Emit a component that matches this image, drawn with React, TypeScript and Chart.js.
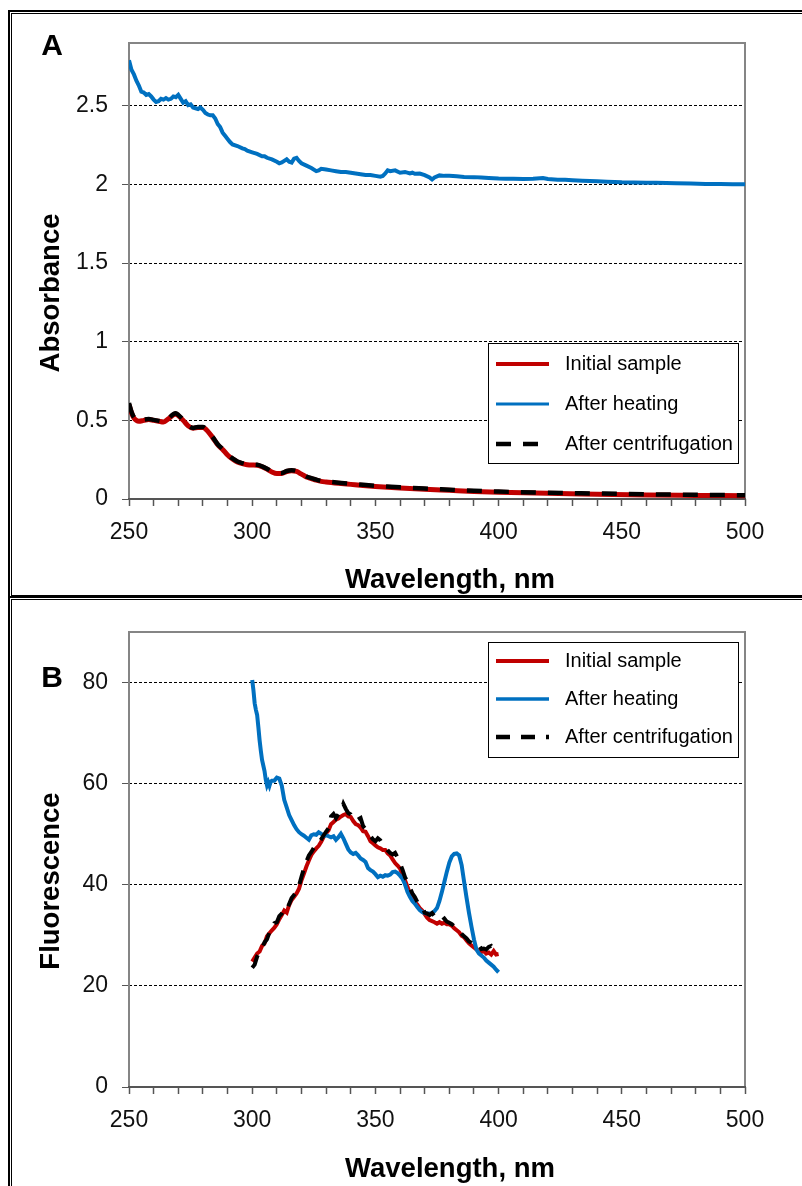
import React, { useEffect, useRef } from 'react';
import { Chart, registerables } from 'chart.js';

Chart.register(...registerables);

const FONT = "'Liberation Sans', Arial, Helvetica, sans-serif";
const RED = '#C00000';
const BLUE = '#0070C0';
const BLACK = '#000000';

const legendLabels = ['Initial sample', 'After heating', 'After centrifugation'];
const xTitle = 'Wavelength, nm';
const xTickLabels = ['250', '300', '350', '400', '450', '500'];
const yTickLabelsA = ['0', '0.5', '1', '1.5', '2', '2.5'];
const yTickLabelsB = ['0', '20', '40', '60', '80'];

// ---------- Panel A: absorbance ----------
const absHeatWl = [
  250, 251, 252, 253, 254, 255, 256, 257, 258, 259, 260, 261, 262, 263, 264, 265, 266, 267, 268, 269,
  270, 271, 272, 273, 274, 275, 276, 277, 278, 279, 280, 281, 282, 283, 284, 285, 286, 287, 288, 289,
  290, 291, 292, 294, 296, 297, 298, 300, 302, 304, 305, 306, 308, 310, 311, 312, 313, 314, 315, 316,
  317, 318, 319, 320, 322, 324, 326, 327, 328, 330, 332, 334, 336, 338, 340, 342, 344, 346, 348, 350,
  352, 353, 354, 355, 356, 358, 360, 362, 364, 365, 366, 368, 370, 372, 373, 374, 376, 378, 380, 383,
  386, 390, 393, 396, 400, 403, 406, 410, 414, 418, 420, 424, 427, 430, 434, 437, 440, 444, 447, 450,
  455, 460, 464, 468, 472, 478, 484, 490, 495, 500,
];
const absHeating = [
  2.79, 2.73, 2.70, 2.66, 2.63, 2.59, 2.585, 2.57, 2.575, 2.56, 2.54, 2.525, 2.53, 2.545, 2.54, 2.55, 2.54, 2.545, 2.56, 2.555,
  2.57, 2.545, 2.52, 2.53, 2.505, 2.51, 2.49, 2.485, 2.48, 2.49, 2.475, 2.455, 2.445, 2.44, 2.44, 2.42, 2.385, 2.365, 2.33, 2.31,
  2.29, 2.27, 2.255, 2.245, 2.23, 2.225, 2.215, 2.205, 2.195, 2.18, 2.18, 2.17, 2.16, 2.145, 2.135, 2.14, 2.15, 2.16, 2.145, 2.14,
  2.165, 2.17, 2.15, 2.135, 2.12, 2.105, 2.085, 2.09, 2.10, 2.095, 2.09, 2.085, 2.08, 2.08, 2.075, 2.07, 2.065, 2.06, 2.06, 2.055,
  2.05, 2.055, 2.07, 2.09, 2.085, 2.09, 2.075, 2.08, 2.07, 2.075, 2.068, 2.07, 2.06, 2.045, 2.032, 2.045, 2.058, 2.055, 2.055, 2.052,
  2.048, 2.047, 2.044, 2.041, 2.038, 2.037, 2.036, 2.035, 2.037, 2.041, 2.035, 2.031, 2.03, 2.027, 2.024, 2.022, 2.02, 2.018, 2.016, 2.014,
  2.013, 2.012, 2.012, 2.01, 2.008, 2.006, 2.004, 2.003, 2.002, 2.001,
];

const absInitWl = [
  250, 251, 252, 253, 254, 256, 258, 260, 262, 264, 266, 268, 269, 270, 272, 274, 276, 278, 280, 282,
  284, 286, 288, 290, 292, 294, 296, 298, 300, 302, 304, 306, 308, 310, 312, 314, 316, 318, 320, 322,
  324, 326, 328, 330, 335, 340, 345, 350, 360, 370, 380, 390, 400, 420, 440, 460, 480, 500,
];
const absInitial = [
  0.60, 0.55, 0.515, 0.50, 0.495, 0.50, 0.505, 0.50, 0.495, 0.49, 0.51, 0.535, 0.54, 0.53, 0.50, 0.465, 0.45, 0.455, 0.455, 0.43,
  0.39, 0.345, 0.315, 0.28, 0.255, 0.235, 0.225, 0.218, 0.216, 0.215, 0.205, 0.19, 0.172, 0.162, 0.162, 0.175, 0.18, 0.175, 0.158, 0.14,
  0.13, 0.12, 0.112, 0.108, 0.10, 0.093, 0.086, 0.08, 0.07, 0.062, 0.055, 0.048, 0.043, 0.036, 0.031, 0.026, 0.023, 0.02,
];
const absCentrif = [
  0.61, 0.555, 0.52, 0.505, 0.50, 0.505, 0.508, 0.503, 0.497, 0.492, 0.512, 0.54, 0.545, 0.535, 0.503, 0.468, 0.452, 0.458, 0.458, 0.433,
  0.393, 0.348, 0.318, 0.283, 0.258, 0.238, 0.228, 0.221, 0.219, 0.218, 0.208, 0.193, 0.175, 0.165, 0.165, 0.178, 0.183, 0.178, 0.161, 0.143,
  0.133, 0.123, 0.115, 0.111, 0.104, 0.097, 0.09, 0.084, 0.074, 0.066, 0.059, 0.052, 0.047, 0.04, 0.035, 0.03, 0.027, 0.024,
];

// ---------- Panel B: fluorescence ----------
const flWl = [
  300, 301, 302, 303, 304, 305, 306, 307, 308, 309, 310, 311, 312, 313, 314, 315, 316, 317, 318, 319,
  320, 321, 322, 323, 324, 325, 326, 327, 328, 329, 330, 331, 332, 333, 334, 335, 336, 337, 338, 339,
  340, 341, 342, 343, 344, 345, 346, 347, 348, 349, 350, 351, 352, 353, 354, 355, 356, 357, 358, 359,
  360, 361, 362, 363, 364, 365, 366, 367, 368, 369, 370, 371, 372, 373, 374, 375, 376, 377, 378, 379,
  380, 381, 382, 383, 384, 385, 386, 387, 388, 389, 390, 391, 392, 393, 394, 395, 396, 397, 398, 399, 400,
];
const flInitial = [
  24.8, 25.6, 26.4, 26.8, 27.9, 28.4, 29.8, 30.4, 31.0, 31.5, 32.2, 33.2, 34.0, 34.9, 34.5, 36.0, 37.0, 37.6, 38.3, 39.2,
  40.9, 42.2, 43.6, 44.8, 45.9, 46.6, 47.2, 47.7, 48.5, 49.5, 50.2, 50.8, 52.0, 52.4, 52.9, 53.1, 53.5, 53.8, 54.0, 53.5,
  53.4, 52.6, 52.0, 51.8, 51.3, 50.6, 50.5, 49.6, 48.6, 48.2, 47.8, 47.4, 47.2, 46.9, 46.9, 46.2, 45.8, 45.0, 44.3, 43.8,
  43.2, 42.0, 40.9, 39.6, 38.3, 37.5, 36.6, 36.1, 35.4, 34.9, 34.2, 33.5, 33.0, 32.8, 32.6, 32.3, 32.6, 32.3, 32.5, 32.2,
  32.2, 31.9, 31.4, 31.0, 30.6, 29.9, 29.6, 29.0, 28.4, 28.0, 27.6, 27.2, 26.9, 26.7, 26.9, 26.4, 26.6, 26.2, 26.9, 26.2, 26.3,
];
const flCentrif = [
  23.6, 24.2, 25.8, 26.9, 27.5, 28.6, 29.2, 30.6, 31.2, 32.4, 32.6, 33.8, 34.3, 35.2, 35.0, 36.2, 37.4, 38.0, 38.7, 39.8,
  41.6, 43.2, 44.6, 45.8, 46.5, 47.3, 48.0, 48.2, 49.0, 49.8, 50.5, 51.2, 53.5, 54.0, 53.2, 54.0, 54.5, 56.0, 55.0, 54.2,
  53.9, 53.2, 52.6, 52.9, 53.2, 51.6, 51.0, 50.4, 49.6, 49.0, 48.6, 49.2, 48.8, 48.0, 47.5, 46.8, 46.3, 46.0, 46.3, 45.4,
  44.2, 43.0, 41.5, 40.6, 39.4, 38.3, 37.6, 36.6, 36.0, 35.6, 34.5, 34.3, 34.0, 34.4, 33.8, 33.2, 33.0, 32.9, 33.3, 32.7,
  32.5, 32.2, 31.8, 31.4, 30.9, 30.3, 29.8, 29.4, 28.8, 28.5, 28.1, 28.4, 28.0, 27.3, 27.4, 27.2, 27.7, 27.9, 27.2, 27.5, 27.1,
];
const flHeatWl = [
  300, 300.5, 301, 301.5, 302, 302.5, 303, 303.5, 304, 304.5, 305, 305.5, 306, 306.5, 307, 307.5, 308, 309, 310, 311,
  312, 313, 314, 315, 316, 317, 318, 319, 320, 321, 322, 323, 324, 325, 326, 327, 328, 329, 330, 331,
  332, 333, 334, 335, 336, 337, 338, 339, 340, 341, 342, 343, 344, 345, 346, 347, 348, 349, 350, 351,
  352, 353, 354, 355, 356, 357, 358, 359, 360, 361, 362, 363, 364, 365, 366, 367, 368, 369, 370, 371,
  372, 373, 374, 375, 376, 377, 378, 379, 380, 381, 382, 383, 384, 385, 386, 387, 388, 389, 390, 391,
  392, 393, 394, 395, 396, 397, 398, 399, 400,
];
const flHeating = [
  80.5, 78.5, 75.9, 74.6, 73.6, 71.2, 68.6, 66.5, 64.7, 63.6, 62.5, 60.8, 59.7, 60.3, 59.6, 60.4, 60.6, 60.6, 61.2, 61.0,
  59.6, 56.8, 55.3, 53.8, 52.8, 51.8, 51.0, 50.4, 50.0, 49.7, 49.3, 48.9, 49.8, 50.0, 49.9, 50.4, 50.1, 49.6, 49.8, 49.6,
  49.4, 49.6, 48.9, 49.4, 50.1, 49.2, 48.1, 47.0, 46.4, 46.1, 46.3, 45.8, 45.2, 44.9, 44.5, 43.3, 42.9, 42.6, 42.1, 41.5,
  41.8, 41.6, 41.9, 41.8, 42.0, 42.5, 42.6, 42.3, 41.8, 41.2, 40.1, 38.6, 37.6, 36.8, 36.3, 35.6, 35.0, 34.6, 34.4, 34.3,
  34.3, 34.4, 34.8, 35.4, 36.8, 38.6, 40.6, 42.6, 44.4, 45.6, 46.1, 46.2, 45.8, 43.9, 40.6, 37.4, 34.4, 31.7, 29.2, 27.2,
  26.4, 26.0, 25.6, 25.0, 24.6, 24.2, 23.8, 23.2, 22.7,
];

const toPoints = (xs: number[], ys: number[]) => xs.map((x, i) => ({ x, y: ys[i] }));

const framePlugin = {
  id: 'plotFrame',
  beforeDatasetsDraw(chart: any) {
    const { ctx, chartArea: a } = chart;
    ctx.save();
    ctx.lineWidth = 2;
    ctx.strokeStyle = '#858585';
    ctx.beginPath();
    ctx.moveTo(a.left, a.bottom);
    ctx.lineTo(a.left, a.top);
    ctx.lineTo(a.right, a.top);
    ctx.lineTo(a.right, a.bottom);
    ctx.stroke();
    ctx.strokeStyle = '#555555';
    ctx.beginPath();
    ctx.moveTo(a.left - 1, a.bottom);
    ctx.lineTo(a.right + 1, a.bottom);
    ctx.stroke();
    ctx.restore();
  },
};

function makeLegendPlugin(box: { x: number; y: number; w: number; h: number; rows: number[] }) {
  return {
    id: 'boxLegend',
    afterDraw(chart: any) {
      const { ctx } = chart;
      ctx.save();
      ctx.fillStyle = '#ffffff';
      ctx.fillRect(box.x, box.y, box.w, box.h);
      ctx.strokeStyle = '#000000';
      ctx.lineWidth = 1;
      ctx.strokeRect(box.x + 0.5, box.y + 0.5, box.w, box.h);
      chart.data.datasets.forEach((ds: any, i: number) => {
        const y = box.rows[i];
        ctx.beginPath();
        ctx.setLineDash(ds.borderDash || []);
        ctx.lineWidth = ds.legendWidth || ds.borderWidth;
        ctx.strokeStyle = ds.borderColor;
        ctx.moveTo(box.x + 8, y);
        ctx.lineTo(box.x + 61, y);
        ctx.stroke();
        ctx.setLineDash([]);
        ctx.fillStyle = '#000000';
        ctx.font = `20px ${FONT}`;
        ctx.textBaseline = 'middle';
        ctx.textAlign = 'left';
        ctx.fillText(ds.label, box.x + 77, y);
      });
      ctx.restore();
    },
  };
}

// Panel letter plus axis titles, positioned as in the original figure.
function makeTextPlugin(letter: string, letterBaseline: number, yTitle: string, yTitleCenter: number, xTitleBaseline: number) {
  return {
    id: 'panelText',
    afterDraw(chart: any) {
      const { ctx } = chart;
      ctx.save();
      ctx.fillStyle = '#000000';
      ctx.textBaseline = 'alphabetic';
      ctx.textAlign = 'center';
      ctx.font = `bold 30px ${FONT}`;
      ctx.fillText(letter, 52, letterBaseline);
      ctx.font = `bold 27.5px ${FONT}`;
      ctx.fillText(xTitle, 450, xTitleBaseline);
      ctx.translate(59, yTitleCenter);
      ctx.rotate(-Math.PI / 2);
      ctx.fillText(yTitle, 0, 0);
      ctx.restore();
    },
  };
}

function axisOptions(opts: { yMax: number; yStep: number; yLabels: string[]; xHeight: number }) {
  return {
    x: {
      type: 'linear',
      min: 250,
      max: 500,
      ticks: {
        stepSize: 10,
        autoSkip: false,
        maxRotation: 0,
        padding: 13,
        color: '#111111',
        font: { family: FONT, size: 23 },
        callback: (v: any) => (xTickLabels.includes(String(v)) ? String(v) : ''),
      },
      grid: { drawOnChartArea: false, drawTicks: true, tickLength: 7, tickColor: '#555555', tickWidth: 1.5 },
      border: { display: false },
      title: { display: false },
      afterFit: (s: any) => { s.height = opts.xHeight; },
    },
    y: {
      type: 'linear',
      min: 0,
      max: opts.yMax,
      ticks: {
        stepSize: opts.yStep,
        includeBounds: false,
        padding: 14,
        color: '#111111',
        font: { family: FONT, size: 23 },
        callback: (v: any) => (opts.yLabels.includes(String(v)) ? String(v) : ''),
      },
      grid: { color: '#000000', lineWidth: 1, drawTicks: true, tickLength: 7, tickColor: '#555555', tickBorderDash: [] },
      border: { display: false, dash: [3, 2] },
      title: { display: false },
      afterFit: (s: any) => { s.width = 129; },
    },
  };
}

function buildA(): any {
  return {
    type: 'line',
    data: {
      datasets: [
        { label: legendLabels[0], data: toPoints(absInitWl, absInitial), borderColor: RED, borderWidth: 5, legendWidth: 4, pointRadius: 0, cubicInterpolationMode: 'monotone', order: 2 },
        { label: legendLabels[1], data: toPoints(absHeatWl, absHeating), borderColor: BLUE, borderWidth: 4, legendWidth: 3, pointRadius: 0, tension: 0, order: 1 },
        { label: legendLabels[2], data: toPoints(absInitWl, absCentrif), borderColor: BLACK, borderWidth: 4.5, legendWidth: 4.5, borderDash: [15, 12], pointRadius: 0, cubicInterpolationMode: 'monotone', order: 0 },
      ],
    },
    options: {
      responsive: false,
      animation: false,
      events: [],
      layout: { padding: { left: 0, top: 43, right: 57, bottom: 0 } },
      scales: axisOptions({ yMax: 2.9, yStep: 0.5, yLabels: yTickLabelsA, xHeight: 100 }),
      plugins: { legend: { display: false }, tooltip: { enabled: false } },
    },
    plugins: [
      framePlugin,
      makeLegendPlugin({ x: 488, y: 343, w: 250, h: 120, rows: [364, 404, 444] }),
      makeTextPlugin('A', 55, 'Absorbance', 293, 588),
    ],
  };
}

function buildB(): any {
  return {
    type: 'line',
    data: {
      datasets: [
        { label: legendLabels[0], data: toPoints(flWl, flInitial), borderColor: RED, borderWidth: 4, legendWidth: 4, pointRadius: 0, tension: 0, order: 2 },
        { label: legendLabels[1], data: toPoints(flHeatWl, flHeating), borderColor: BLUE, borderWidth: 4, legendWidth: 3.5, pointRadius: 0, tension: 0, order: 1 },
        { label: legendLabels[2], data: toPoints(flWl, flCentrif), borderColor: BLACK, borderWidth: 4, legendWidth: 4.5, borderDash: [14, 11], pointRadius: 0, tension: 0, order: 0 },
      ],
    },
    options: {
      responsive: false,
      animation: false,
      events: [],
      layout: { padding: { left: 0, top: 33, right: 57, bottom: 0 } },
      scales: axisOptions({ yMax: 90, yStep: 20, yLabels: yTickLabelsB, xHeight: 99 }),
      plugins: { legend: { display: false }, tooltip: { enabled: false } },
    },
    plugins: [
      framePlugin,
      makeLegendPlugin({ x: 488, y: 43, w: 250, h: 115, rows: [62, 100, 138] }),
      makeTextPlugin('B', 88, 'Fluorescence', 282, 578),
    ],
  };
}

function ChartCanvas({ build, top, width, height }: { build: () => any; top: number; width: number; height: number }) {
  const ref = useRef<HTMLCanvasElement>(null);
  useEffect(() => {
    if (!ref.current) return;
    const chart = new Chart(ref.current, build());
    return () => chart.destroy();
  }, []);
  return (
    <canvas
      ref={ref}
      width={width}
      height={height}
      style={{ position: 'absolute', left: 0, top, width, height, display: 'block' }}
    />
  );
}

function Frame({ top, height }: { top: number; height: number }) {
  return (
    <div
      style={{
        position: 'absolute', left: 8, top, width: 800, height,
        border: '2px solid #000', boxSizing: 'border-box', background: '#fff',
      }}
    >
      <div style={{ position: 'absolute', left: 1, top: 1, right: 1, bottom: 1, border: '1px solid #000' }} />
    </div>
  );
}

export default function App() {
  return (
    <div style={{ position: 'fixed', left: 0, top: 0, width: 802, height: 1186, overflow: 'hidden', background: '#fff' }}>
      <Frame top={10} height={589} />
      <Frame top={596} height={600} />
      <ChartCanvas build={buildA} top={0} width={802} height={599} />
      <ChartCanvas build={buildB} top={599} width={802} height={587} />
    </div>
  );
}
